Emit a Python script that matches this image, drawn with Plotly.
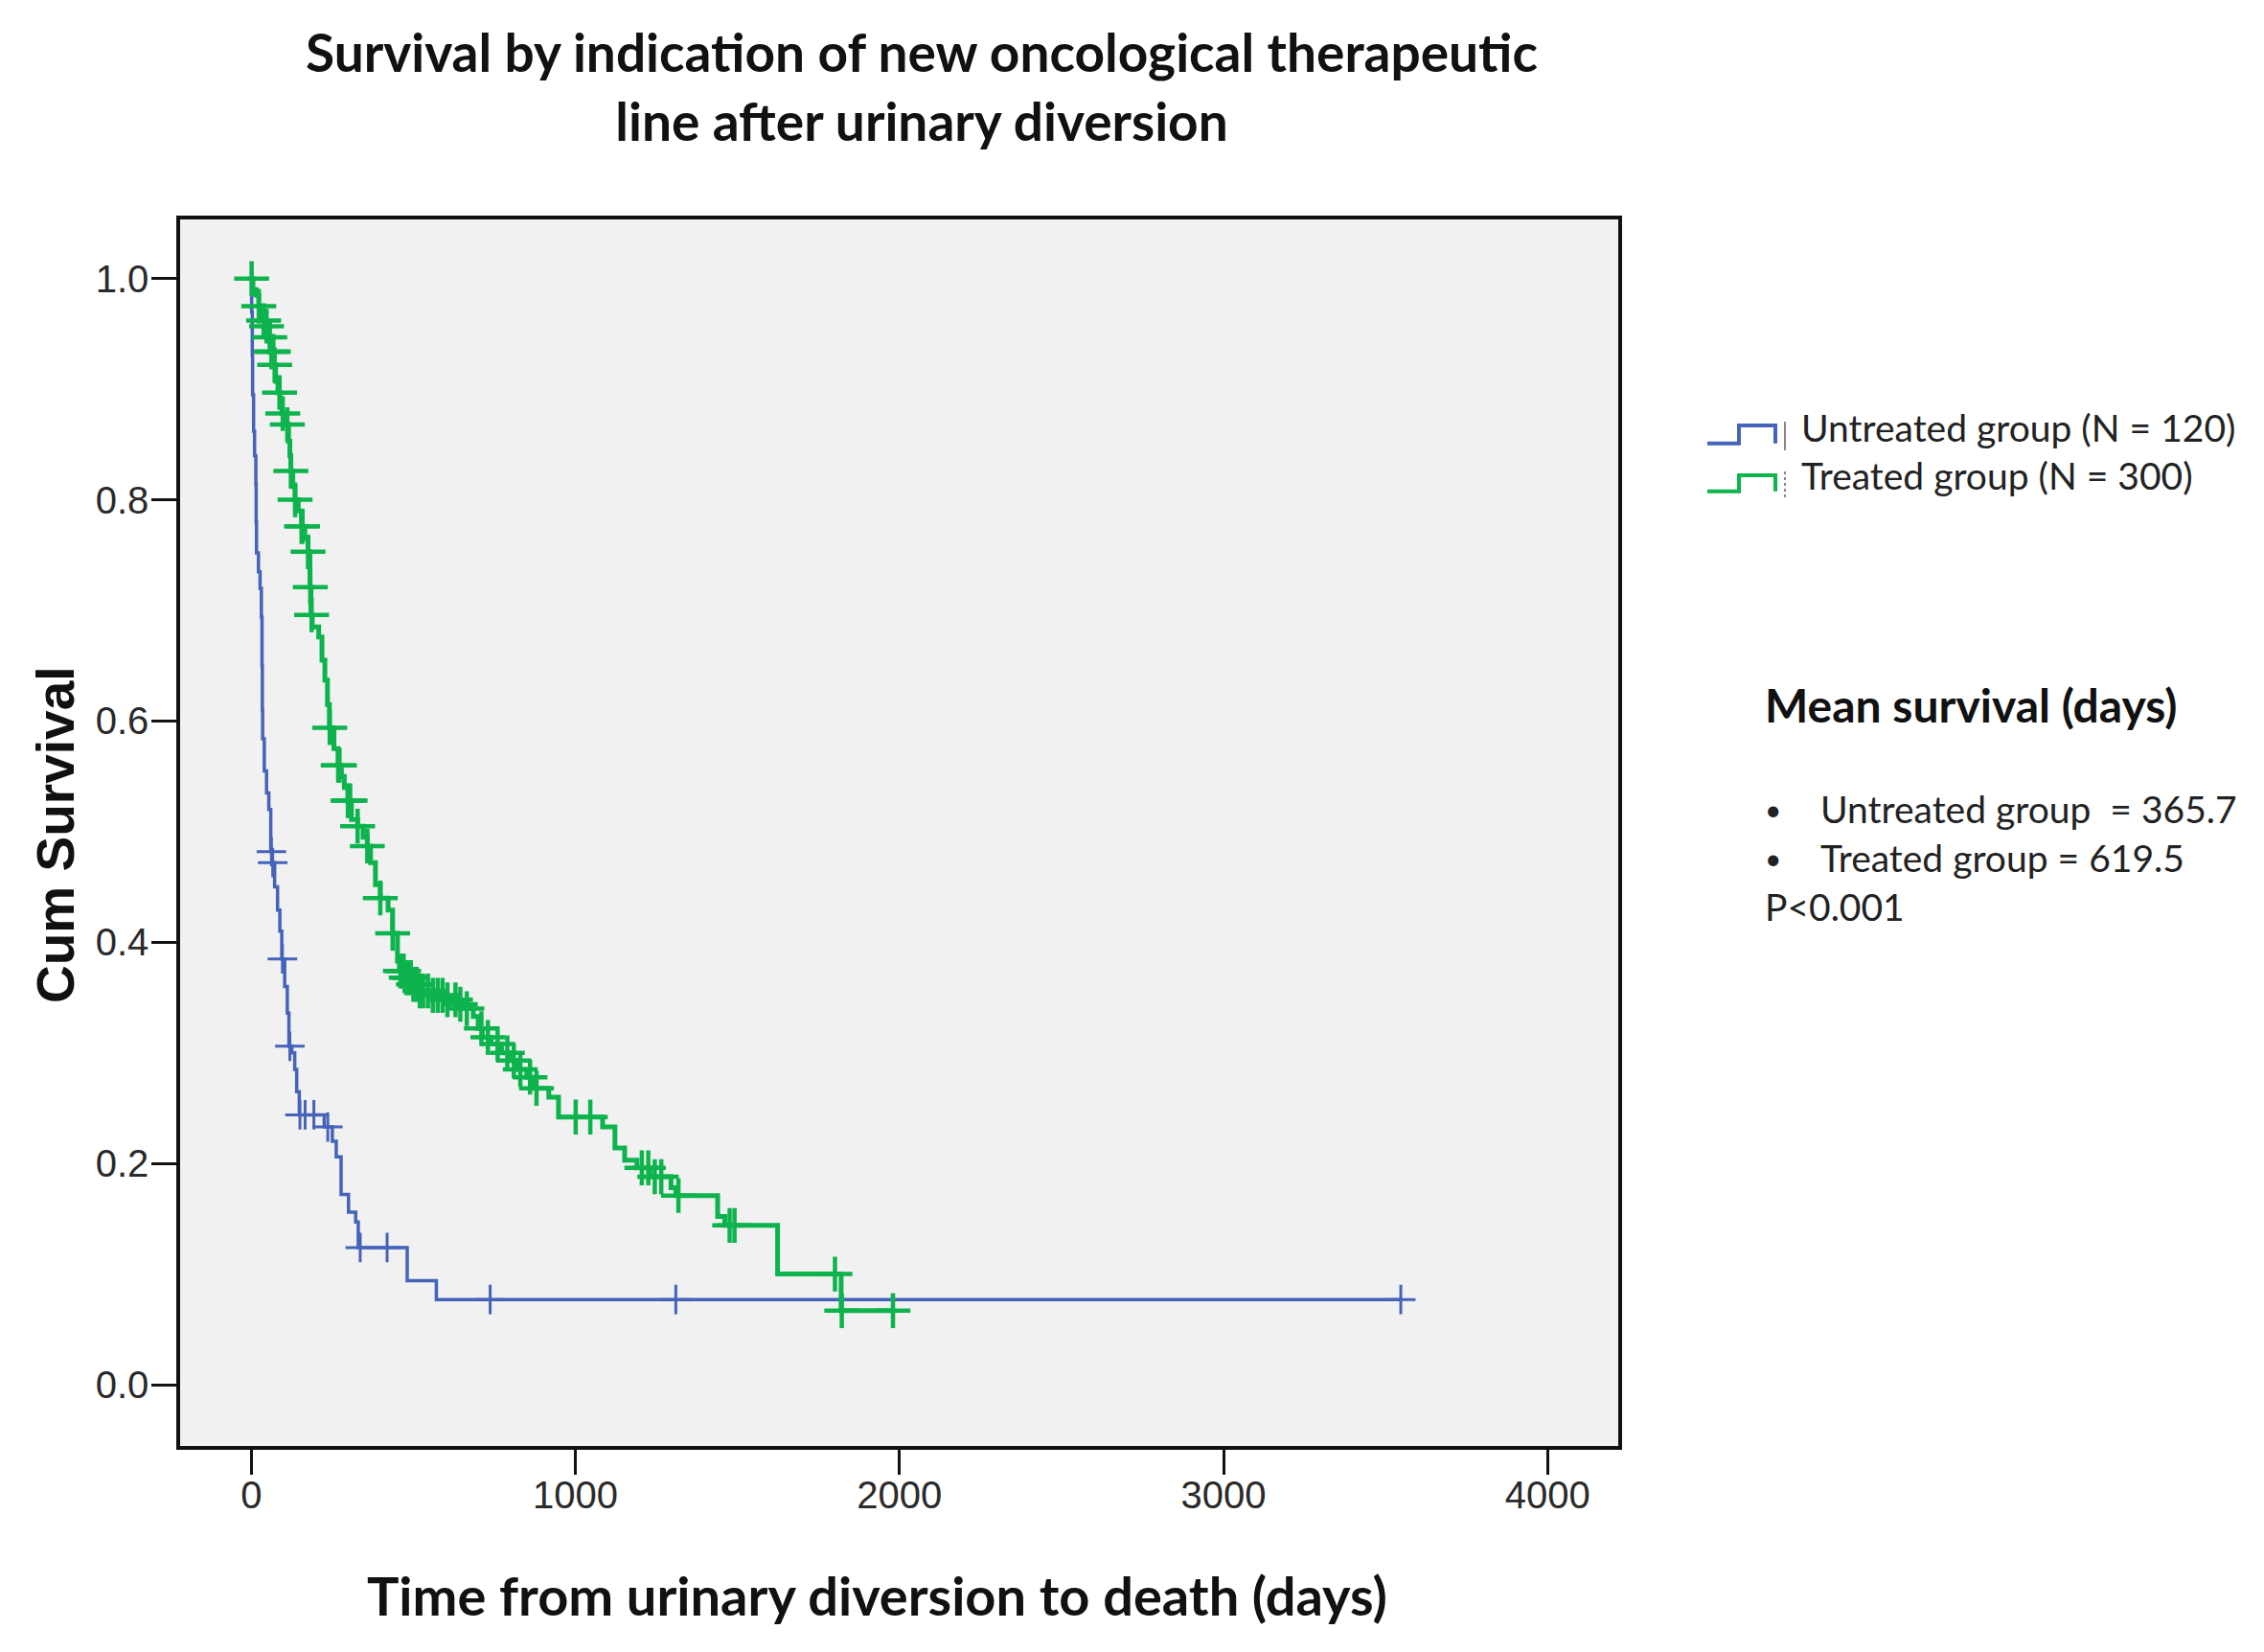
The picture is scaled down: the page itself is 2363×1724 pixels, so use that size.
import numpy as np
import plotly.graph_objects as go

# ---------------- data ----------------
# Untreated group: Kaplan-Meier step points (time in days, cumulative survival after the step)
untreated_t = [0, 1, 3, 4, 7, 10, 14, 15, 16, 22, 27, 31, 33, 34, 35, 40, 47, 54, 60, 64,
               72, 81, 88, 94, 103, 111, 116, 125, 134, 140, 148, 225, 250, 262, 277, 300,
               322, 330, 481, 571]
untreated_s = [1.0, 0.97, 0.93, 0.895, 0.862, 0.84, 0.814, 0.78, 0.752, 0.735, 0.72, 0.694,
               0.65, 0.61, 0.584, 0.555, 0.535, 0.52, 0.482, 0.472, 0.45, 0.429, 0.41, 0.385,
               0.36, 0.336, 0.306, 0.30, 0.285, 0.265, 0.244, 0.233, 0.22, 0.206, 0.172, 0.156,
               0.147, 0.124, 0.094, 0.077]
untreated_cens = [62, 66, 96, 119, 150, 166, 193, 236, 336, 419, 737, 1310, 3547]

# Treated group
treated_t = [0, 5, 15, 23, 29, 36, 43, 51, 58, 62, 69, 75, 82, 89, 95, 102, 109, 115, 119,
             122, 128, 135, 145, 155, 165, 175, 181, 184, 188, 208, 218, 227, 235, 241, 255,
             268, 278, 287, 298, 309, 328, 345, 358, 368, 383, 398, 422, 436, 451, 457, 475,
             495, 516, 555, 600, 634, 660, 685, 700, 713, 740, 772, 800, 821, 850, 873, 918,
             948, 1084, 1122, 1152, 1190, 1230, 1295, 1310, 1439, 1461, 1624, 1820]
treated_s = [1.0, 0.99, 0.985, 0.975, 0.967, 0.962, 0.957, 0.947, 0.94, 0.934, 0.922, 0.907,
             0.897, 0.887, 0.878, 0.873, 0.868, 0.853, 0.84, 0.826, 0.812, 0.80, 0.79, 0.776,
             0.765, 0.753, 0.721, 0.696, 0.685, 0.676, 0.655, 0.637, 0.615, 0.594, 0.575, 0.56,
             0.55, 0.54, 0.528, 0.511, 0.505, 0.495, 0.487, 0.472, 0.452, 0.44, 0.429, 0.408,
             0.383, 0.374, 0.368, 0.362, 0.356, 0.352, 0.348, 0.344, 0.34, 0.333, 0.322, 0.314,
             0.308, 0.30, 0.293, 0.285, 0.278, 0.268, 0.26, 0.242, 0.233, 0.214, 0.203, 0.196,
             0.188, 0.178, 0.171, 0.152, 0.144, 0.100, 0.067]
treated_cens = [1, 23, 38, 47, 57, 62, 66, 68, 72, 87, 97, 111, 122, 135, 155, 158, 175, 182,
                186, 242, 268, 272, 298, 305, 328, 358, 398, 436, 460, 466, 470, 478, 485, 492,
                500, 510, 520, 530, 545, 560, 575, 590, 605, 630, 645, 665, 710, 730, 760, 790,
                810, 830, 860, 880, 1001, 1046, 1205, 1225, 1245, 1265, 1318, 1476, 1491, 1801,
                1822, 1980]

series_names = ["Untreated group (N = 120)", "Treated group (N = 300)"]
mean_title = "Mean survival (days)"
mean_lines = ["Untreated group  = 365.7", "Treated group = 619.5"]
p_text = "P<0.001"
x_ticks = [0, 1000, 2000, 3000, 4000]
y_ticks = [0.0, 0.2, 0.4, 0.6, 0.8, 1.0]

# ---------------- styling ----------------
W, H = 2363, 1724
L, R, T, B = 188, 1689, 229, 1509       # plot area in pixels
BLUE = "#4563b9"
GREEN = "#0db34c"


def px(x):
    return (x - L) / (R - L)


def py(y):
    return (B - y) / (B - T)


def step_value(times, surv, t):
    idx = np.searchsorted(np.asarray(times), t, side="right") - 1
    return float(np.asarray(surv)[idx])


def km_xy(times, surv, cens):
    last = max(max(times), max(cens))
    xs = list(times) + [last]
    ys = list(surv) + [surv[-1]]
    return xs, ys


fig = go.Figure()

groups = [
    (untreated_t, untreated_s, untreated_cens, BLUE, 3.5, 3, 22, series_names[0]),
    (treated_t, treated_s, treated_cens, GREEN, 5, 4.5, 26, series_names[1]),
]
for times, surv, cens, color, lw, mw, ms, name in groups:
    xs, ys = km_xy(times, surv, cens)
    fig.add_trace(go.Scatter(
        x=xs, y=ys, mode="lines", line=dict(color=color, width=lw, shape="hv"),
        name=name, showlegend=False, hoverinfo="skip"))
    cy = [step_value(times, surv, c) for c in cens]
    fig.add_trace(go.Scatter(
        x=cens, y=cy, mode="markers",
        marker=dict(symbol="cross-thin-open", size=ms, color=color,
                    line=dict(color=color, width=mw)),
        name=name + " censored", showlegend=False, hoverinfo="skip"))

fig.update_layout(
    width=W, height=H,
    margin=dict(l=L, r=W - R, t=T, b=H - B, autoexpand=False),
    paper_bgcolor="white", plot_bgcolor="#f1f1f1",
    title=dict(
        text="Survival by indication of new oncological therapeutic<br>line after urinary diversion",
        x=962 / W, xanchor="center", xref="container",
        y=1 - 75 / H, yanchor="middle", yref="container",
        font=dict(family="Lato", size=55, color="#111", weight="bold")),
    showlegend=False,
)

fig.update_xaxes(
    range=[-219.7, 4218], tickvals=x_ticks, ticktext=[str(v) for v in x_ticks],
    showgrid=False, zeroline=False,
    showline=True, linecolor="#111", linewidth=3.5, mirror=True,
    ticks="outside", ticklen=26, tickwidth=3, tickcolor="#111",
    ticklabelstandoff=-13,
    tickfont=dict(family="Liberation Sans, Arial", size=40, color="#2a2a2a"),
)
fig.update_yaxes(
    range=[-0.0554, 1.0535], tickvals=y_ticks, ticktext=[f"{v:.1f}" for v in y_ticks],
    showgrid=False, zeroline=False,
    showline=True, linecolor="#111", linewidth=3.5, mirror=True,
    ticks="outside", ticklen=26, tickwidth=3, tickcolor="#111",
    ticklabelstandoff=-5,
    tickfont=dict(family="Liberation Sans, Arial", size=40, color="#2a2a2a"),
)

TXT = dict(family="Lato", size=39, color="#222")
DY = -9  # vertical correction for Lato text centring
ann = []
# axis titles
ann.append(dict(text="Time from urinary diversion to death (days)", x=px(915), y=py(1664),
                xref="paper", yref="paper", xanchor="center", yanchor="middle", showarrow=False,
                font=dict(family="Lato", size=56, color="#111", weight="bold")))
ann.append(dict(text="Cum Survival", x=px(58), y=py(871), textangle=-90,
                xref="paper", yref="paper", xanchor="center", yanchor="middle", showarrow=False,
                font=dict(family="Liberation Sans Narrow, Arial Narrow, Liberation Sans",
                          size=55, color="#111", weight="bold")))
# legend texts
for name, yy in zip(series_names, [452, 502]):
    ann.append(dict(text=name, x=px(1878), y=py(yy + DY + 3), xref="paper", yref="paper",
                    xanchor="left", yanchor="middle", showarrow=False, font=TXT))
# mean survival block
ann.append(dict(text=mean_title, x=px(1840), y=py(744 + DY), xref="paper", yref="paper",
                xanchor="left", yanchor="middle", showarrow=False,
                font=dict(family="Lato", size=48, color="#111", weight="bold")))
for line, yy in zip(mean_lines, [853, 904]):
    ann.append(dict(text="•", x=px(1840), y=py(yy + DY), xref="paper", yref="paper",
                    xanchor="left", yanchor="middle", showarrow=False,
                    font=dict(family="Lato", size=30, color="#222")))
    ann.append(dict(text=line, x=px(1898), y=py(yy + DY), xref="paper", yref="paper",
                    xanchor="left", yanchor="middle", showarrow=False, font=TXT))
ann.append(dict(text=p_text, x=px(1840), y=py(955 + DY), xref="paper", yref="paper",
                xanchor="left", yanchor="middle", showarrow=False, font=TXT))
fig.update_layout(annotations=ann)

# legend icons (step-shaped, like the SPSS legend)
shapes = []
for color, lo, hi in [(BLUE, 462.7, 444), (GREEN, 512.7, 496)]:
    path = (f"M {px(1782)},{py(lo)} L {px(1815)},{py(lo)} L {px(1815)},{py(hi)} "
            f"L {px(1853)},{py(hi)} L {px(1853)},{py(lo)}")
    shapes.append(dict(type="path", path=path, xref="paper", yref="paper",
                       line=dict(color=color, width=4)))
shapes.append(dict(type="line", x0=px(1863), x1=px(1863), y0=py(440), y1=py(470),
                   xref="paper", yref="paper", line=dict(color="#888", width=2)))
shapes.append(dict(type="line", x0=px(1863), x1=px(1863), y0=py(492), y1=py(522),
                   xref="paper", yref="paper", line=dict(color="#888", width=2, dash="dot")))
fig.update_layout(shapes=shapes)

fig.write_html("out.html", config={"displayModeBar": False},
               post_script="document.body.style.margin='0px';document.body.style.padding='0px';")
